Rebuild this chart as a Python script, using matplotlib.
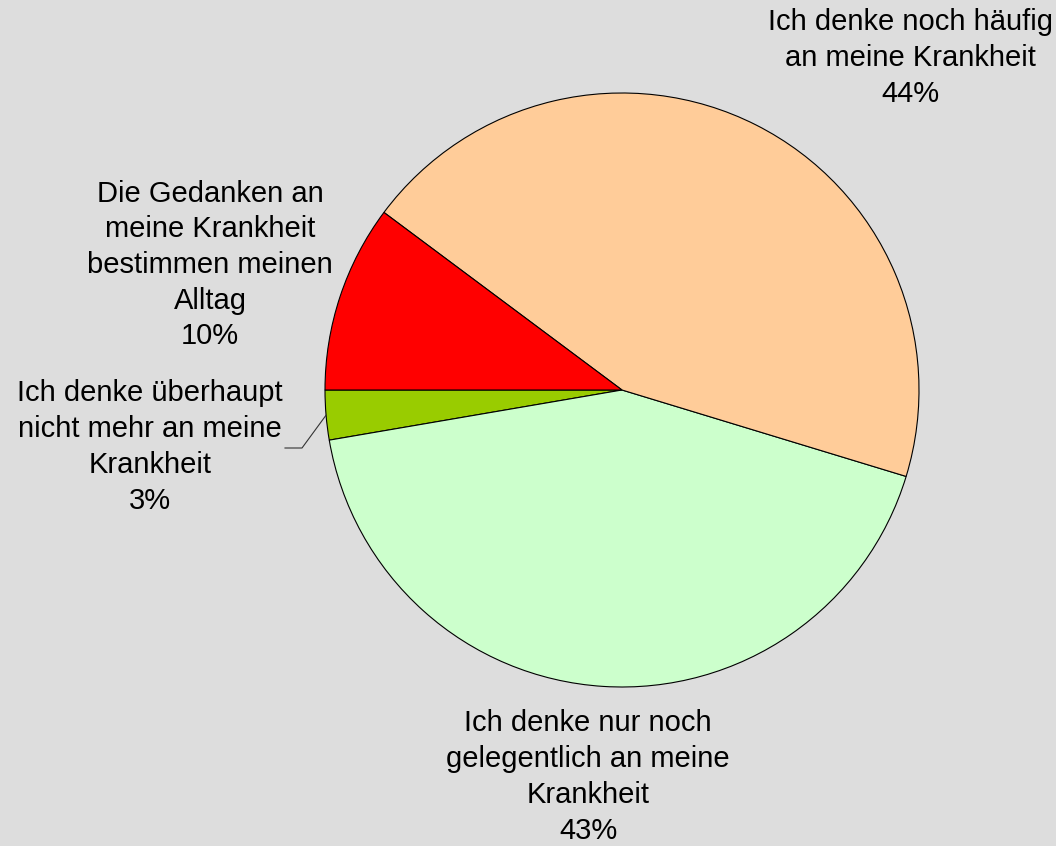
import numpy as np
import matplotlib.pyplot as plt

plt.rcParams['font.family'] = ['Liberation Sans', 'DejaVu Sans']

# slices, counter-clockwise starting at 9 o'clock
labels = ['Ich denke überhaupt\nnicht mehr an meine\nKrankheit',
          'Ich denke nur noch\ngelegentlich an meine\nKrankheit',
          'Ich denke noch häufig\nan meine Krankheit',
          'Die Gedanken an\nmeine Krankheit\nbestimmen meinen\nAlltag']
values = [2.7, 42.6, 44.5, 10.2]
colors = ['#99CC00', '#CCFFCC', '#FFCC99', '#FF0000']

# label centres in pixels (x, y from top)
label_pos = [(150, 447), (588, 777), (910, 58), (210, 265)]

W, H = 1056, 846
fig = plt.figure(figsize=(W / 100, H / 100), dpi=100)
fig.patch.set_facecolor('#DDDDDD')
ax = fig.add_axes([0, 0, 1, 1])
ax.set_facecolor('#DDDDDD')
ax.set_xlim(0, W)
ax.set_ylim(0, H)
ax.set_aspect('equal')
ax.axis('off')

cx, cy, r = 622, H - 390, 297
wedges, _ = ax.pie(values, colors=colors, startangle=180, counterclock=True,
                   center=(cx, cy), radius=r,
                   wedgeprops=dict(edgecolor='black', linewidth=0.8))
ax.set_xlim(0, W)
ax.set_ylim(0, H)

total = sum(values)
for w, lab, v, (lx, ly) in zip(wedges, labels, values, label_pos):
    txt = lab + '\n' + '%d%%' % round(v / total * 100)
    ax.text(lx, H - ly, txt, ha='center', va='center', fontsize=21,
            linespacing=1.35, color='black')

# leader line for the small slice
w = wedges[0]
mid = np.deg2rad((w.theta1 + w.theta2) / 2)
px, py = cx + r * np.cos(mid), cy + r * np.sin(mid)
ax.plot([285, 302, px], [H - 448, H - 448, py], color='#333333', lw=0.8)

fig.savefig('out.png', dpi=100, facecolor=fig.get_facecolor())
